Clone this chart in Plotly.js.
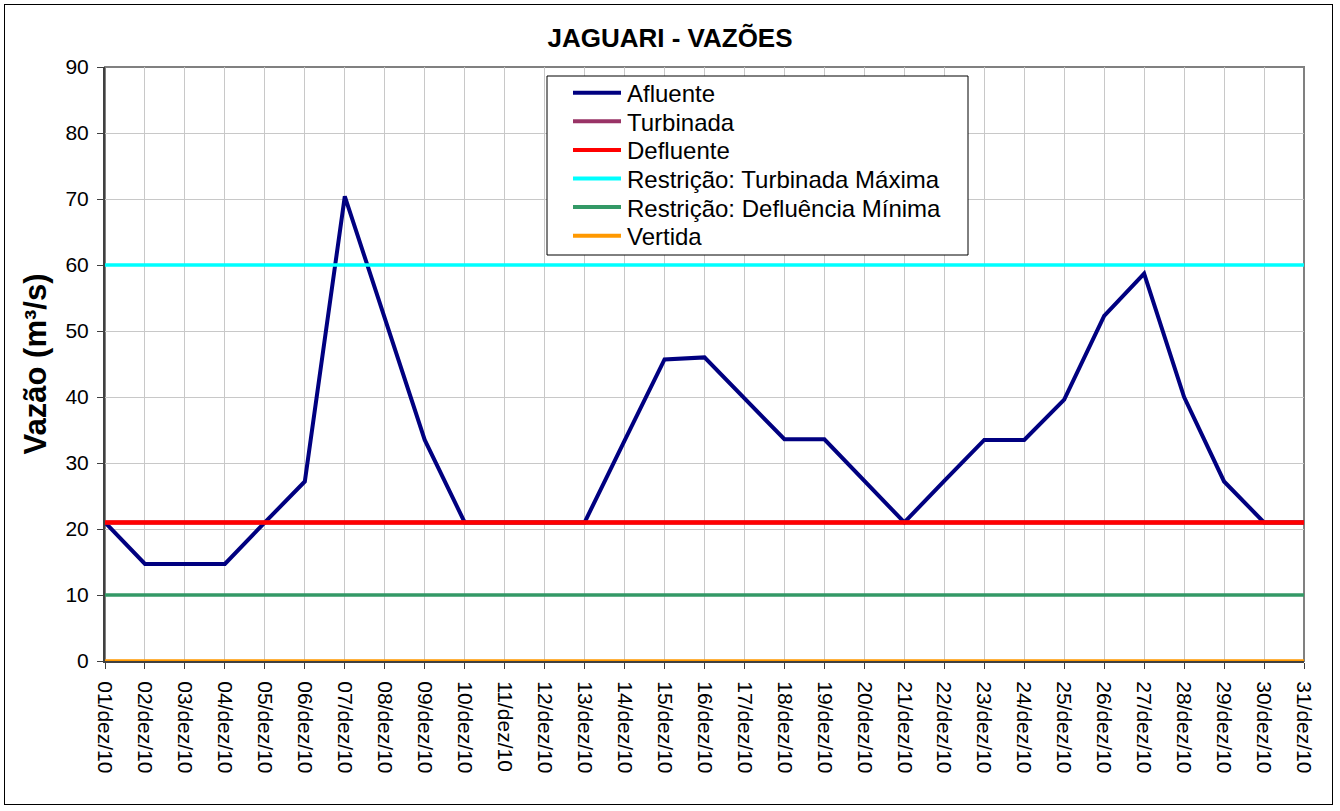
<!DOCTYPE html>
<html>
<head>
<meta charset="utf-8">
<script src="https://cdn.plot.ly/plotly-3.0.1.min.js"></script>
<style>
  html, body { margin: 0; padding: 0; background: #fff; }
  #frame { position: absolute; left: 4px; top: 4px; width: 1329px; height: 801px; border: 1px solid #000; box-sizing: border-box; }
  #chart { position: absolute; left: 0; top: 0; width: 1340px; height: 811px; }
</style>
</head>
<body>
<div id="frame"></div>
<div id="chart"></div>
<script>
const dias = ["01/dez/10","02/dez/10","03/dez/10","04/dez/10","05/dez/10","06/dez/10","07/dez/10","08/dez/10","09/dez/10","10/dez/10",
  "11/dez/10","12/dez/10","13/dez/10","14/dez/10","15/dez/10","16/dez/10","17/dez/10","18/dez/10","19/dez/10","20/dez/10",
  "21/dez/10","22/dez/10","23/dez/10","24/dez/10","25/dez/10","26/dez/10","27/dez/10","28/dez/10","29/dez/10","30/dez/10","31/dez/10"];
const afluente = [21.0,14.7,14.7,14.7,21.0,27.2,70.4,52.0,33.5,21.0,
  21.0,21.0,21.0,33.4,45.7,46.0,39.8,33.6,33.6,27.4,
  21.0,27.3,33.5,33.5,39.6,52.3,58.7,40.0,27.2,21.0,21.0];
const turbinada = [21,21,21,21,21,21,21,21,21,21,21,21,21,21,21,21,21,21,21,21,21,21,21,21,21,21,21,21,21,21,21];
const defluente = [21,21,21,21,21,21,21,21,21,21,21,21,21,21,21,21,21,21,21,21,21,21,21,21,21,21,21,21,21,21,21];
const turbMax = [60,60,60,60,60,60,60,60,60,60,60,60,60,60,60,60,60,60,60,60,60,60,60,60,60,60,60,60,60,60,60];
const deflMin = [10,10,10,10,10,10,10,10,10,10,10,10,10,10,10,10,10,10,10,10,10,10,10,10,10,10,10,10,10,10,10];
const vertida = [0,0,0,0,0,0,0,0,0,0,0,0,0,0,0,0,0,0,0,0,0,0,0,0,0,0,0,0,0,0,0];

const FONT = "Arial, 'Liberation Sans', sans-serif";
function tr(name, y, color, w) {
  return {x: dias, y: y, name: name, type: 'scatter', mode: 'lines',
    line: {color: color, width: w}, hoverinfo: 'x+y+name', showlegend: false};
}
const data = [
  tr('Afluente', afluente, '#000080', 4),
  tr('Turbinada', turbinada, '#993366', 4),
  tr('Defluente', defluente, '#FF0000', 4.5),
  tr('Restrição: Turbinada Máxima', turbMax, '#00FFFF', 3.5),
  tr('Restrição: Defluência Mínima', deflMin, '#339966', 3.5),
  tr('Vertida', vertida, '#FF9900', 3.5)
];

// Plot area in pixels (for placing the legend box in paper coordinates)
const PL = 105, PR = 1304, PT = 67, PB = 661;
const px = v => (v - PL) / (PR - PL);
const py = v => (PB - v) / (PB - PT);

// Legend box (drawn like the spreadsheet legend)
const legShapes = [{type: 'rect', xref: 'paper', yref: 'paper', layer: 'above',
  x0: px(547), x1: px(968), y0: py(255), y1: py(76),
  fillcolor: '#fff', line: {color: '#000', width: 1}}];
const legAnn = [];
const rowY = [92.7, 121.3, 149.9, 178.5, 207.1, 235.7];
data.forEach((t, i) => {
  legShapes.push({type: 'line', xref: 'paper', yref: 'paper', layer: 'above',
    x0: px(573), x1: px(621), y0: py(rowY[i]), y1: py(rowY[i]),
    line: {color: t.line.color, width: 4}});
  legAnn.push({xref: 'paper', yref: 'paper', x: px(625), y: py(rowY[i] + 1),
    xanchor: 'left', yanchor: 'middle', showarrow: false, text: t.name,
    font: {family: FONT, size: 24, color: '#000'}});
});

const layout = {
  width: 1340, height: 811,
  margin: {l: PL, r: 1340 - PR, t: PT, b: 811 - PB},
  paper_bgcolor: 'rgba(0,0,0,0)', plot_bgcolor: '#fff',
  font: {family: FONT, color: '#000', size: 21},
  title: {text: '<b>JAGUARI - VAZÕES</b>', font: {family: FONT, size: 26, color: '#000'},
    x: 0.5, xanchor: 'center', y: 0.953, yanchor: 'middle', yref: 'container'},
  showlegend: false,
  xaxis: {type: 'category', range: [0, 30], tickangle: 90,
    showgrid: true, gridcolor: '#c8c8c8', gridwidth: 1,
    ticks: 'outside', ticklen: 6, tickcolor: '#404040',
    showline: true, linecolor: '#404040', linewidth: 2,
    ticklabelstandoff: 8,
    tickfont: {family: FONT, size: 21, color: '#000'}, zeroline: false},
  yaxis: {range: [0, 90], dtick: 10, tick0: 0,
    showgrid: true, gridcolor: '#c8c8c8', gridwidth: 1,
    ticks: 'outside', ticklen: 6, tickcolor: '#404040',
    showline: true, linecolor: '#404040', linewidth: 2,
    ticklabelstandoff: 4,
    tickfont: {family: FONT, size: 21, color: '#000'}, zeroline: false,
    title: {text: '<b>Vazão (m³/s)</b>', font: {family: FONT, size: 31, color: '#000'}, standoff: 10}},
  shapes: [
    {type: 'rect', xref: 'paper', yref: 'paper', x0: 0, x1: 1, y0: 0, y1: 1,
      line: {color: '#808080', width: 2}, layer: 'below'}
  ].concat(legShapes),
  annotations: legAnn
};
Plotly.newPlot('chart', data, layout, {displayModeBar: false, staticPlot: true});
</script>
</body>
</html>
